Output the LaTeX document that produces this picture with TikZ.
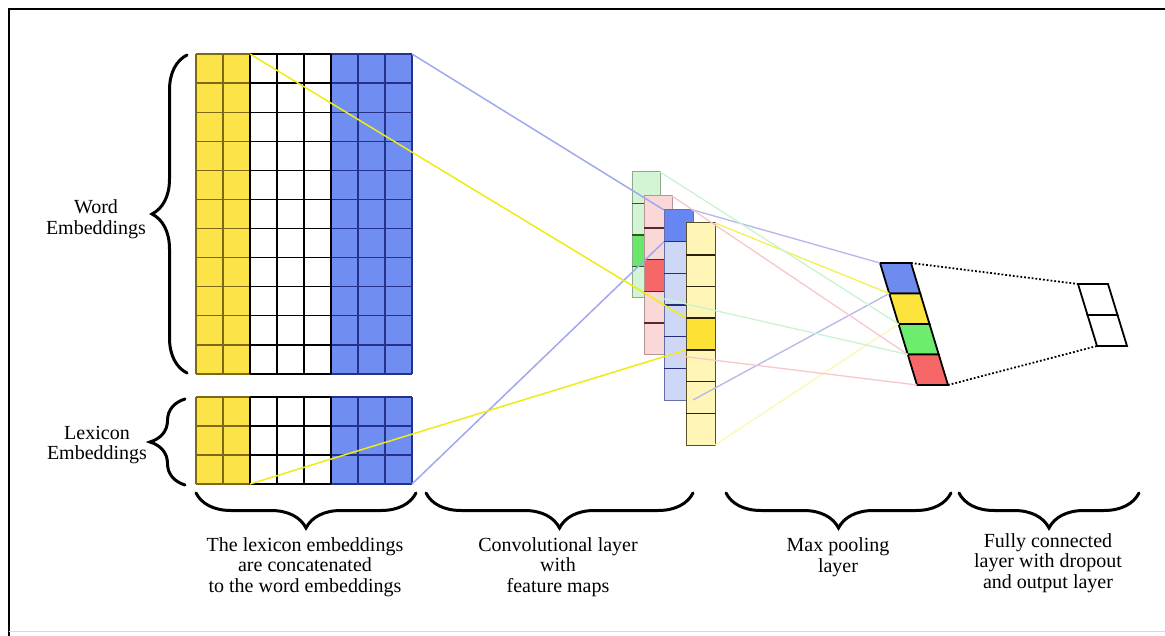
\documentclass[tikz,border=0pt]{standalone}
\usepackage{fontspec}
\setmainfont{Liberation Serif}
\usetikzlibrary{decorations.pathreplacing}
% matrix colours
\definecolor{ycol}{RGB}{252,228,72}
\definecolor{bcol}{RGB}{112,142,242}
\definecolor{yline}{RGB}{125,105,20}
\definecolor{bline}{RGB}{35,50,140}
% feature-map colours
\definecolor{gL}{RGB}{212,245,212}\definecolor{gD}{RGB}{105,232,105}\definecolor{gS}{RGB}{40,90,40}\definecolor{gB}{RGB}{140,170,140}
\definecolor{pL}{RGB}{250,216,216}\definecolor{pD}{RGB}{246,104,104}\definecolor{pS}{RGB}{90,40,40}\definecolor{pB}{RGB}{180,150,150}
\definecolor{bL}{RGB}{206,216,246}\definecolor{bD}{RGB}{104,134,242}\definecolor{bS}{RGB}{35,45,120}\definecolor{bB}{RGB}{100,110,170}
\definecolor{yL}{RGB}{255,245,182}\definecolor{yD}{RGB}{252,226,52}\definecolor{yS}{RGB}{40,35,10}\definecolor{yB}{RGB}{90,80,40}
% connector colours
\definecolor{cY}{RGB}{238,236,20}
\definecolor{cB}{RGB}{160,168,240}
\definecolor{cYf}{RGB}{252,248,180}
\definecolor{cGf}{RGB}{200,244,208}
\definecolor{cRf}{RGB}{247,200,200}
\definecolor{cBf}{RGB}{180,183,236}
% pooled colours
\definecolor{poB}{RGB}{110,140,240}
\definecolor{poY}{RGB}{252,228,60}
\definecolor{poG}{RGB}{110,236,110}
\definecolor{poR}{RGB}{246,104,104}

% feature map: #1 xl, #2 xr, #3 top, #4 cells, #5 cell height, #6 colour prefix, #7 dark index, #8 n-1
\newcommand\featmap[8]{%
  \fill[#6L] (#1,#3) rectangle (#2,{#3+#4*#5});
  \fill[#6D] (#1,{#3+(#7-1)*#5}) rectangle (#2,{#3+#7*#5});
  \draw[#6B, line width=1pt] (#1,#3) rectangle (#2,{#3+#4*#5});
  \foreach \i in {1,...,#8} \draw[#6S, line width=1.6pt] (#1,{#3+\i*#5}) -- (#2,{#3+\i*#5});
}

\begin{document}
\begin{tikzpicture}[x=1pt,y=-1pt,
  lbl/.style={font=\fontsize{20}{20.5}\selectfont, align=center, inner sep=0pt},
  bracestyle/.style={decorate, decoration={brace, amplitude=35pt, aspect=0.5}, line width=3pt, line cap=round},
  gridline/.style={line width=1.3pt},
  conn/.style={line width=1.5pt},
  fconn/.style={line width=1.3pt},
  poolcell/.style={draw=black, line width=1.8pt, line join=miter},
  dotconn/.style={dotted, line width=1.8pt}]
\useasboundingbox (0,0) rectangle (1165,636);
\fill[white] (0,0) rectangle (1165,636);

% frame
\draw[line width=2pt] (9,636) -- (9,9) -- (1165,9);
\draw[black!15, line width=1pt] (9,631) -- (1165,631);

% ---------- input matrices ----------
\foreach \yt/\yb/\n in {54/374/11, 397/484/3}{
  \fill[ycol] (196,\yt) rectangle (250,\yb);
  \fill[bcol] (331,\yt) rectangle (412,\yb);
  \foreach \i in {0,...,\n}{
    \pgfmathsetmacro\yy{\yt+\i*(\yb-\yt)/\n}
    \draw[gridline, yline] (196,\yy) -- (250,\yy);
    \draw[gridline, black] (250,\yy) -- (331,\yy);
    \draw[gridline, bline] (331,\yy) -- (412,\yy);
  }
  \foreach \x in {196,223}{\draw[gridline, yline] (\x,\yt) -- (\x,\yb);}
  \foreach \x in {250,277,304,331}{\draw[gridline, black] (\x,\yt) -- (\x,\yb);}
  \foreach \x in {358,385,412}{\draw[gridline, bline] (\x,\yt) -- (\x,\yb);}
}
\coordinate (mTR) at (412,54);
\coordinate (mBR) at (412,484);
\coordinate (mYT) at (250,54);
\coordinate (mYB) at (250,484);

% ---------- feature maps ----------
\featmap{632}{660}{172}{4}{31.5}{g}{3}{3}
\featmap{644}{672}{196}{5}{31.8}{p}{3}{4}
\featmap{664}{693}{210}{6}{31.67}{b}{1}{5}
\featmap{686}{715}{223}{7}{31.72}{y}{4}{6}
\coordinate (gTR) at (660,172); \coordinate (gBR) at (660,298);
\coordinate (pTR) at (672,196); \coordinate (pBR) at (672,355);
\coordinate (bTR) at (693,210); \coordinate (bBR) at (693,400);
\coordinate (yTR) at (715,223); \coordinate (yBR) at (715,445);
\coordinate (bDT) at (664,210); \coordinate (bDB) at (664,241.7);
\coordinate (yDT) at (686,318.2); \coordinate (yDB) at (686,349.9);

% ---------- pooling layer ----------
\foreach \k in {0,...,4}{
  \coordinate (pl\k) at ({880+9.25*\k},{263+30.5*\k});
  \coordinate (pr\k) at ({911+9.25*\k},{263+30.5*\k});
}
\foreach \k/\c [count=\j from 1] in {0/poB,1/poY,2/poG,3/poR}{
  \filldraw[poolcell, fill=\c] (pl\k) -- (pr\k) -- (pr\j) -- (pl\j) -- cycle;
}

% ---------- output layer ----------
\foreach \k in {0,1,2}{
  \coordinate (ol\k) at ({1078+9.5*\k},{284+31*\k});
  \coordinate (or\k) at ({1108+9.5*\k},{284+31*\k});
}
\draw[poolcell, fill=white] (ol0) -- (or0) -- (or1) -- (ol1) -- cycle;
\draw[poolcell, fill=white] (ol1) -- (or1) -- (or2) -- (ol2) -- cycle;

% ---------- connectors ----------
\draw[conn, cB] (mTR) -- (bDT);
\draw[conn, cB] (mBR) -- (bDB);
\draw[conn, cY] (mYT) -- (yDT);
\draw[conn, cY] (mYB) -- (yDB);

\draw[fconn, cBf] (bTR) -- (pl0);
\draw[fconn, cBf] (bBR) -- (pl1);
\draw[fconn, cY!75!white] (yTR) -- (pl1);
\draw[fconn, cYf] (yBR) -- (pl2);
\draw[fconn, cGf] (gTR) -- (pl2);
\draw[fconn, cGf] (gBR) -- (pl3);
\draw[fconn, cRf] (pTR) -- (pl3);
\draw[fconn, cRf] (pBR) -- (pl4);

\draw[dotconn] (pr0) -- (ol0);
\draw[dotconn] (pr4) -- (ol2);

% ---------- braces ----------
\coordinate (wb1) at (187,373); \coordinate (wb2) at (187,55);
\coordinate (lb1) at (185,485); \coordinate (lb2) at (185,399);
\draw[bracestyle] (wb1) -- (wb2);
\draw[bracestyle] (lb1) -- (lb2);
\coordinate (b1r) at (416,493); \coordinate (b1l) at (196,493);
\coordinate (b2r) at (693,493); \coordinate (b2l) at (426,493);
\coordinate (b3r) at (951,493); \coordinate (b3l) at (726,493);
\coordinate (b4r) at (1139,493); \coordinate (b4l) at (959,493);
\draw[bracestyle] (b1r) -- (b1l);
\draw[bracestyle] (b2r) -- (b2l);
\draw[bracestyle] (b3r) -- (b3l);
\draw[bracestyle] (b4r) -- (b4l);

% ---------- labels ----------
\node[lbl] (tword) at (96,219) {Word\\Embeddings};
\node[lbl] (tlex) at (97,445) {Lexicon\\Embeddings};
\node[lbl] (t1) at (305,567) {The lexicon embeddings\\are concatenated\\to the word embeddings};
\node[lbl] (t2) at (558,567) {Convolutional layer\\with\\feature maps};
\node[lbl] (t3) at (838,557) {Max pooling\\layer};
\node[lbl] (t4) at (1048,563) {Fully connected\\layer with dropout\\and output layer};
\end{tikzpicture}
\end{document}
